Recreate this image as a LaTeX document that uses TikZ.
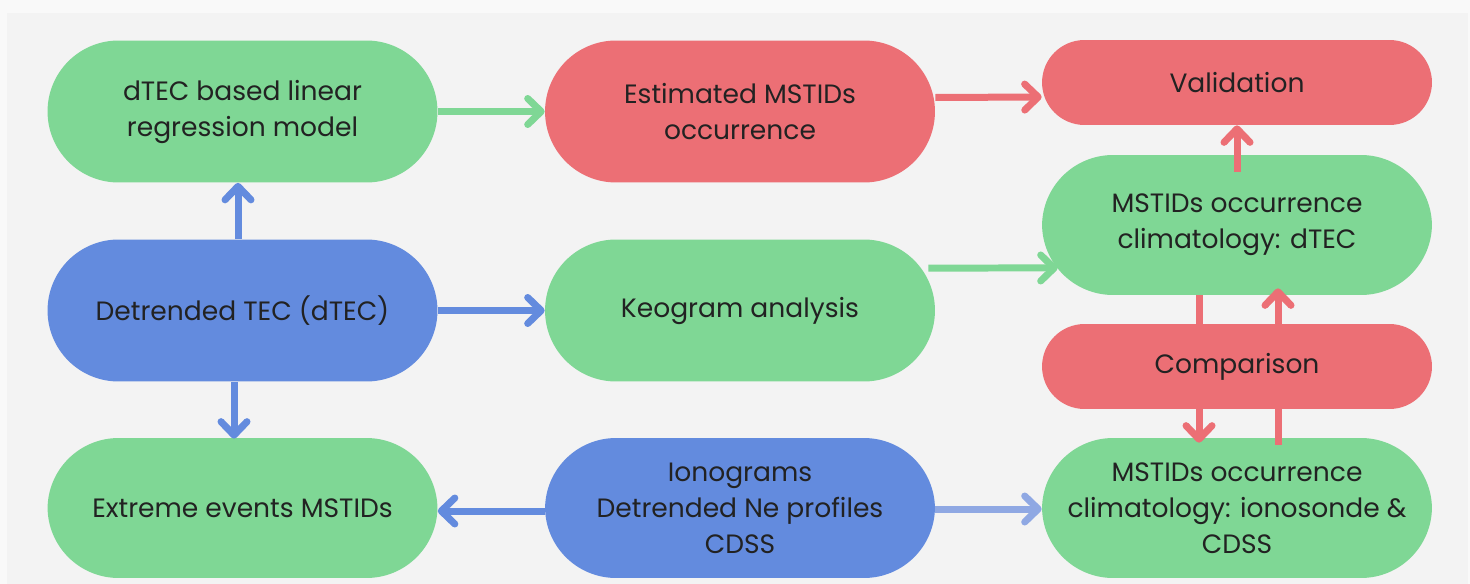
\documentclass[tikz,border=0pt]{standalone}
\usepackage{fontspec}
\setmainfont{Poppins}
\usetikzlibrary{arrows.meta}
\definecolor{leaf}{HTML}{7FD795}
\definecolor{rose}{HTML}{EC6F75}
\definecolor{sky}{HTML}{638BDE}
\definecolor{mist}{HTML}{8FA8E3}
\definecolor{ink}{HTML}{222222}
\definecolor{paper}{HTML}{F3F3F3}
\definecolor{rim}{HTML}{F9F9F9}
\begin{document}
\begin{tikzpicture}[x=0.02cm,y=-0.02cm,
  pill/.style={rectangle, rounded corners=1.42cm, minimum width=7.8cm,
    minimum height=2.84cm, align=center, text=ink,
    font=\fontsize{15.1}{20.5}\selectfont},
  pillsm/.style={pill, rounded corners=0.85cm, minimum height=1.7cm},
  link/.style={line width=0.14cm, -{Straight Barb[length=0.27cm,width=0.52cm,round]}}]
  \fill[rim] (0,0) rectangle (1470,584);
  \fill[paper] (7,13) rectangle (1468,584);
  \useasboundingbox (0,0) rectangle (1470,584);
  \node[pill, fill=leaf] (model) at (242.5,111.5) {dTEC based linear\\regression model};
  \node[pill, fill=rose] (estim) at (740,111.5) {Estimated MSTIDs\\occurrence};
  \node[pillsm, fill=rose] (valid) at (1237,82.5) {Validation};
  \node[pill, fill=sky] (dtec) at (242.5,310.5) {Detrended TEC (dTEC)};
  \node[pill, fill=leaf] (keo) at (740,310.5) {Keogram analysis};
  \node[pill, fill=leaf, minimum height=2.8cm] (climtec) at (1237,225) {MSTIDs occurrence\\climatology: dTEC};
  \node[pill, fill=leaf, minimum height=2.8cm] (extreme) at (242.5,508) {Extreme events MSTIDs};
  \node[pill, fill=sky, minimum height=2.8cm] (iono) at (740,508) {Ionograms\\Detrended Ne profiles\\CDSS};
  \node[pill, fill=leaf, minimum height=2.8cm] (climion) at (1237,508) {MSTIDs occurrence\\climatology: ionosonde \&\\CDSS};
  \draw[link, leaf] (model.east) -- (estim.west);
  \draw[link, rose] ([yshift=0.28cm]estim.east) -- ([yshift=-0.29cm]valid.west);
  \draw[link, sky] ([xshift=-0.09cm]dtec.north) -- ([xshift=-0.09cm]model.south);
  \draw[link, sky] (dtec.east) -- (keo.west);
  \draw[link, sky] ([xshift=-0.17cm]dtec.south) -- ([xshift=-0.17cm,yshift=-0.02cm]extreme.north);
  \draw[link, leaf] ([xshift=-0.14cm,yshift=0.85cm]keo.east) -- ([xshift=0.32cm,yshift=-0.86cm]climtec.west);
  \draw[link, rose] ([yshift=-0.34cm]climtec.north) -- (valid.south);
  \draw[link, rose] ([xshift=-0.76cm]climtec.south) -- ([xshift=-0.76cm,yshift=-0.1cm]climion.north);
  \draw[link, rose] ([xshift=0.82cm,yshift=-0.14cm]climion.north) -- ([xshift=0.82cm,yshift=0.14cm]climtec.south);
  \node[pillsm, fill=rose] (compar) at (1237,366.5) {Comparison};
  \draw[link, sky] ([yshift=-0.06cm]iono.west) -- ([yshift=-0.06cm]extreme.east);
  \draw[link, mist] ([yshift=-0.02cm]iono.east) -- ([yshift=-0.02cm]climion.west);
\end{tikzpicture}
\end{document}
